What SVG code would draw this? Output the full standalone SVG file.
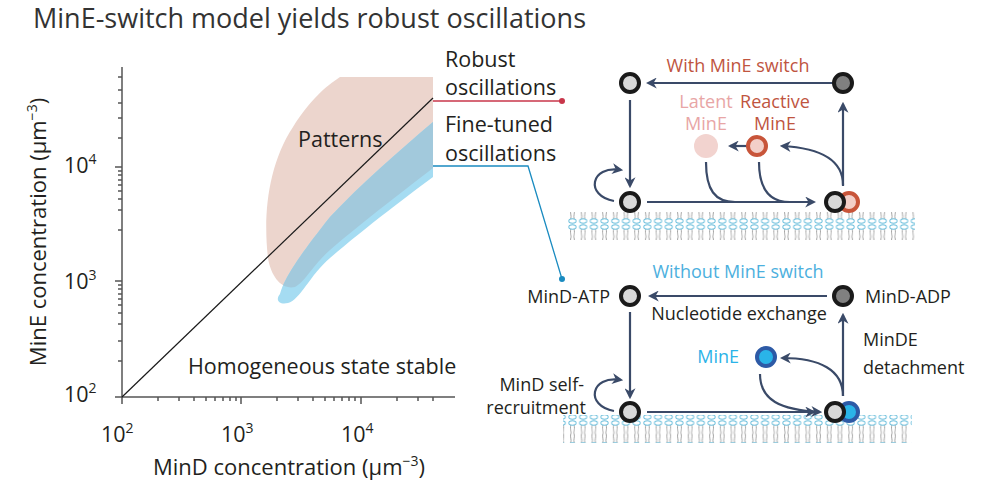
<svg xmlns="http://www.w3.org/2000/svg" width="986" height="488" viewBox="0 0 986 488">
<style>
text{font-family:"Open Sans","Liberation Sans",sans-serif;fill:#231f20}
.big{font-size:21.5px}
.sm{font-size:18px}
.ax{stroke:#555;stroke-width:1.5;fill:none}
.arr{stroke:#3a4a68;stroke-width:2.2;fill:none}
.md{fill:#d9d9d9;stroke:#1a1a1a;stroke-width:4}
.mdd{fill:#808080;stroke:#1a1a1a;stroke-width:4}
</style>
<defs>
<marker id="ah" viewBox="0 0 10 10" refX="8" refY="5" markerWidth="5" markerHeight="5" orient="auto"><path d="M0,0 L10,5 L0,10 L3,5 z" fill="#3a4a68"/></marker>
<pattern id="lip" x="0" y="0" width="10.7" height="28" patternUnits="userSpaceOnUse">
<path d="M3.7,5 C2.8,10 4.6,12 3.7,14 C2.8,17 4.6,19 3.7,23 M7,5 C7.9,10 6.1,12 7,14 C7.9,17 6.1,19 7,23" stroke="#9a9a9a" stroke-width="0.9" fill="none"/>
<ellipse cx="5.35" cy="3" rx="3.6" ry="2.2" fill="#fff" stroke="#6cbfdc" stroke-width="1"/>
<ellipse cx="5.35" cy="25" rx="3.6" ry="2.2" fill="#fff" stroke="#6cbfdc" stroke-width="1"/>
</pattern>
<path id="pinkp" d="M340,77 L433,77 L433,168 C415,182 360,224 330,250 C312,266 305,282 295,287 C282,290 271,277 268,258 C263,215 268,165 293,127 C310,100 325,87 340,77 z"/>
<clipPath id="pc"><use href="#pinkp"/></clipPath>
<path id="bluep" d="M433,122 L433,177 C415,190 360,232 330,258 C310,275 300,300 288,303 C279,305 275,300 280,294 C284,278 300,255 330,217 C360,185 400,150 433,122 z"/>
</defs>

<text x="33" y="28" style="font-size:27px;fill:#333">MinE-switch model yields robust oscillations</text>

<g id="plot">
<use href="#pinkp" fill="#ecd5cd"/>
<use href="#bluep" fill="#a5dcf2"/>
<use href="#bluep" fill="#a2c9dc" clip-path="url(#pc)"/>
<path class="ax" d="M122,67 V397 H455"/>
<path class="ax" d="M122,167 h-7 M122,281 h-7 M122,397 h-7 M122,77 h-4 M122,90 h-4 M122,103 h-4 M122,118 h-4 M122,138 h-4 M122,171 h-4 M122,175 h-4 M122,180 h-4 M122,185 h-4 M122,191 h-4 M122,199 h-4 M122,210 h-4 M122,230 h-4 M122,285 h-4 M122,289 h-4 M122,294 h-4 M122,299 h-4 M122,305 h-4 M122,313 h-4 M122,324 h-4 M122,341 h-4 M122,361 h-4"/>
<path class="ax" d="M122,397 v7 M241,397 v7 M361,397 v7 M158,397 v4 M179,397 v4 M194,397 v4 M206,397 v4 M215,397 v4 M223,397 v4 M230,397 v4 M236,397 v4 M277,397 v4 M298,397 v4 M313,397 v4 M325,397 v4 M334,397 v4 M342,397 v4 M349,397 v4 M355,397 v4 M397,397 v4 M418,397 v4 M433,397 v4"/>
<line x1="122" y1="397" x2="433" y2="98" stroke="#1a1a1a" stroke-width="1.2"/>
<text class="big" x="298" y="147">Patterns</text>
<text class="big" x="188" y="374">Homogeneous state stable</text>
<text class="big" x="64" y="402">10<tspan dy="-9" font-size="14">2</tspan></text>
<text class="big" x="64" y="289">10<tspan dy="-9" font-size="14">3</tspan></text>
<text class="big" x="64" y="173">10<tspan dy="-9" font-size="14">4</tspan></text>
<text class="big" x="101" y="442">10<tspan dy="-9" font-size="14">2</tspan></text>
<text class="big" x="221" y="442">10<tspan dy="-9" font-size="14">3</tspan></text>
<text class="big" x="341" y="442">10<tspan dy="-9" font-size="14">4</tspan></text>
<text x="289" y="475" text-anchor="middle" style="font-size:22px">MinD concentration (μm<tspan dy="-9" font-size="14">−3</tspan><tspan dy="9">)</tspan></text>
<text transform="translate(46,232) rotate(-90)" text-anchor="middle" style="font-size:22px">MinE concentration (μm<tspan dy="-9" font-size="14">−3</tspan><tspan dy="9">)</tspan></text>
<text class="big" x="445" y="67">Robust</text>
<text class="big" x="445" y="95">oscillations</text>
<text class="big" x="445" y="132">Fine-tuned</text>
<text class="big" x="445" y="161">oscillations</text>
<polyline points="433,101 562,101" stroke="#c8364a" stroke-width="1.3" fill="none"/>
<circle cx="562" cy="101" r="3" fill="#c8364a"/>
<polyline points="433,166 528,166 562,279" stroke="#1a8bc0" stroke-width="1.3" fill="none"/>
<circle cx="562" cy="279" r="3" fill="#1a8bc0"/>
</g>

<rect x="567" y="212" width="348" height="28" fill="url(#lip)"/>
<rect x="563" y="415" width="349" height="28" fill="url(#lip)"/>

<g id="connectors">
<line class="arr" x1="834" y1="83" x2="648" y2="83" marker-end="url(#ah)"/>
<line class="arr" x1="630" y1="100" x2="630" y2="186" marker-end="url(#ah)"/>
<line class="arr" x1="647" y1="202" x2="814" y2="202" marker-end="url(#ah)"/>
<line class="arr" x1="843" y1="186" x2="843" y2="104" marker-end="url(#ah)"/>
<line class="arr" x1="747" y1="146" x2="730" y2="146" marker-end="url(#ah)"/>
<path class="arr" d="M843,185 C843,160 820,148 782,146" marker-end="url(#ah)"/>
<path class="arr" d="M706,162 C706,190 715,202 735,202"/>
<path class="arr" d="M759,162 C759,190 770,202 790,202"/>
<path class="arr" d="M614,201 C585,196 590,165 621,170" marker-end="url(#ah)"/>

<line class="arr" x1="827" y1="296" x2="650" y2="296" marker-end="url(#ah)"/>
<line class="arr" x1="630" y1="312" x2="630" y2="397" marker-end="url(#ah)"/>
<line class="arr" x1="647" y1="412" x2="814" y2="412" marker-end="url(#ah)"/>
<line class="arr" x1="843" y1="396" x2="843" y2="315" marker-end="url(#ah)"/>
<path class="arr" d="M843,396 C843,370 820,358 782,358" marker-end="url(#ah)"/>
<path class="arr" d="M760,374 C760,400 780,410 820,412" marker-end="url(#ah)"/>
<path class="arr" d="M614,411 C585,406 590,375 621,380" marker-end="url(#ah)"/>
</g>

<g id="top-panel">
<text class="sm" x="738" y="72" text-anchor="middle" style="fill:#c0553f">With MinE switch</text>
<text class="sm" x="706" y="108" text-anchor="middle" style="fill:#e8a6a6">Latent</text>
<text class="sm" x="706" y="130" text-anchor="middle" style="fill:#e8a6a6">MinE</text>
<text class="sm" x="775" y="108" text-anchor="middle" style="fill:#c0553f">Reactive</text>
<text class="sm" x="775" y="130" text-anchor="middle" style="fill:#c0553f">MinE</text>
<circle class="md" cx="630" cy="83" r="9"/>
<circle class="mdd" cx="843" cy="83" r="9"/>
<circle class="md" cx="630" cy="202" r="9"/>
<circle cx="849" cy="202" r="9" fill="#f3cfc8" stroke="#c8553a" stroke-width="4"/>
<circle class="md" cx="835" cy="202" r="9"/>
<circle cx="706" cy="146" r="12" fill="#f2d3cf"/>
<circle cx="757" cy="146" r="9" fill="#f3cfc8" stroke="#c8553a" stroke-width="4"/>
</g>

<g id="bottom-panel">
<text class="sm" x="738" y="278" text-anchor="middle" style="fill:#4cb0de">Without MinE switch</text>
<text class="sm" x="610" y="303" text-anchor="end">MinD-ATP</text>
<text class="sm" x="865" y="303">MinD-ADP</text>
<text class="sm" x="739" y="320" text-anchor="middle">Nucleotide exchange</text>
<text class="sm" x="863" y="346">MinDE</text>
<text class="sm" x="863" y="374">detachment</text>
<text class="sm" x="739" y="363" text-anchor="end" style="fill:#2bb3e8">MinE</text>
<text class="sm" x="584" y="391" text-anchor="end">MinD self-</text>
<text class="sm" x="586" y="414" text-anchor="end">recruitment</text>
<circle class="md" cx="630" cy="296" r="9"/>
<circle class="mdd" cx="843" cy="296" r="9"/>
<circle class="md" cx="630" cy="412" r="9"/>
<circle cx="849" cy="412" r="9" fill="#2ab4e8" stroke="#2d5aa6" stroke-width="4"/>
<circle class="md" cx="835" cy="412" r="9"/>
<circle cx="766" cy="357" r="9" fill="#2ab4e8" stroke="#2d5aa6" stroke-width="4"/>
</g>
</svg>
